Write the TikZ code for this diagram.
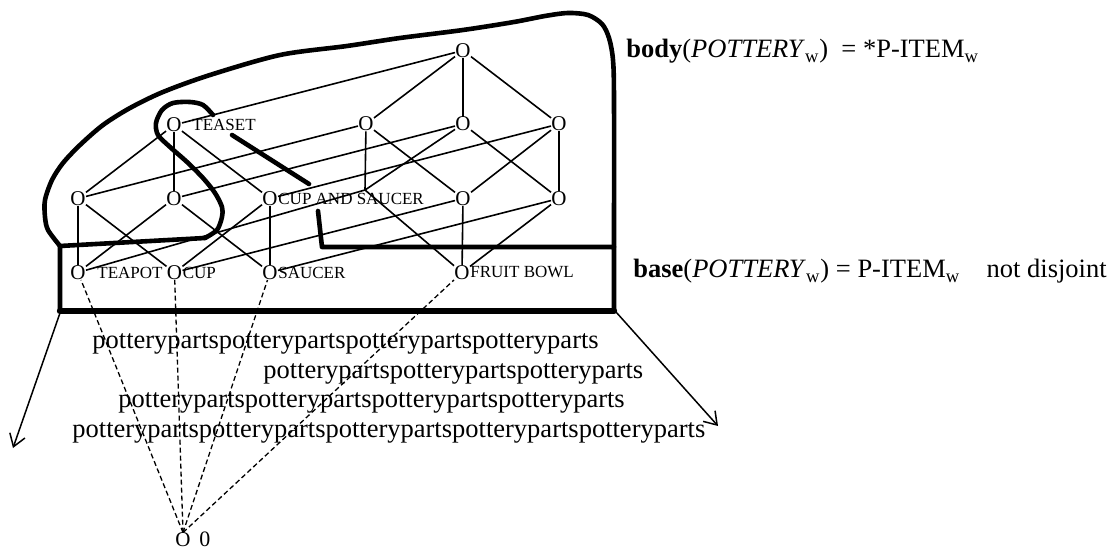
\documentclass[tikz,border=0pt]{standalone}
\usepackage{fontspec}
\setmainfont{Liberation Serif}
\usetikzlibrary{arrows.meta}

\begin{document}
\begin{tikzpicture}
[x=0.5pt, y=-0.5pt,
 every node/.style={inner sep=0pt},
 elt/.style={font=\fontsize{10.5}{10.5}\selectfont},
 every label/.style={font=\fontsize{8.5}{8.5}\selectfont, inner sep=0pt},
 big/.style={font=\fontsize{13.25}{15}\selectfont, anchor=base west},
 link/.style={line width=0.8pt},
 wire/.style={line width=0.65pt, dash pattern=on 2.5pt off 1.5pt},
 rim/.style={line width=2.3pt, line join=round, line cap=round},
 arr/.style={line width=0.75pt, -{Straight Barb[length=6pt,width=8pt]}}]
\useasboundingbox (0,0) rectangle (1107,550);
\node (all) [elt] at (463,50.5) {O};
\node (teaset) [elt, label={[label distance=5pt]right:TEASET}] at (174,125) {O};
\node (tpcpfb) [elt] at (366,124) {O};
\node (tpscfb) [elt] at (463,124) {O};
\node (cpscfb) [elt] at (559,124) {O};
\node (tpcp) [elt] at (78,198.5) {O};
\node (tpsc) [elt] at (174,198.5) {O};
\node (cpsc) [elt, label={right:CUP AND SAUCER}] at (270,198.5) {O};
\coordinate (tpfb) at (365,190);
\node (cpfb) [elt] at (463,198.5) {O};
\node (scfb) [elt] at (559,198.5) {O};
\node (tp) [elt, label={[label distance=5.5pt]right:TEAPOT}] at (78,272.5) {O};
\node (cp) [elt, label={right:CUP}] at (174.5,272.5) {O};
\node (sc) [elt, label={right:SAUCER}] at (270,272.5) {O};
\node (fb) [elt, label={right:FRUIT BOWL}] at (462,272.5) {O};
\node (zero) [elt] at (183,540) {O};
\node (nil) [font=\fontsize{11}{11}\selectfont, anchor=base west] at ([xshift=4pt]zero.base east) {0};
\draw [link] (all) -- (teaset);
\draw [link] (all) -- (tpcpfb);
\draw [link] (all) -- (tpscfb);
\draw [link] (all) -- (cpscfb);
\draw [link] (teaset) -- (tpcp);
\draw [link] (teaset) -- (tpsc);
\draw [link] (teaset) -- (cpsc);
\draw [link] (tpcpfb) -- (tpcp);
\draw [link] (tpcpfb) -- (tpfb);
\draw [link] (tpcpfb) -- (cpfb);
\draw [link] (tpscfb) -- (tpsc);
\draw [link] (tpscfb) -- (tpfb);
\draw [link] (tpscfb) -- (scfb);
\draw [link] (cpscfb) -- (cpsc);
\draw [link] (cpscfb) -- (cpfb);
\draw [link] (cpscfb) -- (scfb);
\draw [link] (tpcp) -- (tp);
\draw [link] (tpcp) -- (cp);
\draw [link] (tpsc) -- (tp);
\draw [link] (tpsc) -- (sc);
\draw [link] (cpsc) -- (cp);
\draw [link] (cpsc) -- (sc);
\draw [link] (tpfb) -- (tp);
\draw [link] (tpfb) -- (fb);
\draw [link] (cpfb) -- (cp);
\draw [link] (cpfb) -- (fb);
\draw [link] (scfb) -- (sc);
\draw [link] (scfb) -- (fb);
\draw [wire] (zero.north) -- (tp);
\draw [wire] (zero.north) -- (cp);
\draw [wire] (zero.north) -- (sc);
\draw [wire] (zero.north) -- (fb);
% body and base outlines
\draw [rim] plot [smooth] coordinates {(60,246) (48,230) (45,217) (45,200) (52,180) (63,163) (80,145) (103,125) (130,108) (163,92) (210,75) (280,55) (347,46) (400,38) (463,30) (514,22) (545,16) (568,13) (588,15) (602,24) (609,38) (613,60) (614,100) (614,247)};
\draw [rim] plot [smooth] coordinates {(205,238) (217,230) (222,217) (222,207) (215,193) (203,178) (187,162) (170,147) (158,135) (156,123) (162,110) (173,103) (190,102) (203,105) (213,115)};
\draw [rim] (232,135) -- (309,184);
\draw [rim] (205,238) -- (60,246) -- (60,311) -- (614,311) -- (614,247) -- (322,247) -- (318,211);
\draw [rim, line width=3.2pt] (60,311) -- (614,311);
\coordinate (bl) at (60,313);
\coordinate (br) at (616,312);
\coordinate (lt) at (13,448);
\coordinate (rt) at (718,426);
\draw [arr] (bl) -- (lt);
\draw [arr] (br) -- (rt);
\node (pp1) [big] at (92,349) {potterypartspotterypartspotterypartspotteryparts};
\node (pp2) [big] at (263,379) {potterypartspotterypartspotteryparts};
\node (pp3) [big] at (118,408) {potterypartspotterypartspotterypartspotteryparts};
\node (pp4) [big] at (72,437) {potterypartspotterypartspotterypartspotterypartspotteryparts};
\node (body) [big] at (626,58) {\textbf{body}(\textit{POTTERY}\textsubscript{w})~ = *P-ITEM\textsubscript{w}};
\node (base) [big] at (633,278) {\textbf{base}(\textit{POTTERY}\textsubscript{w}) = P-ITEM\textsubscript{w}\quad{}not disjoint};
\end{tikzpicture}
\end{document}
